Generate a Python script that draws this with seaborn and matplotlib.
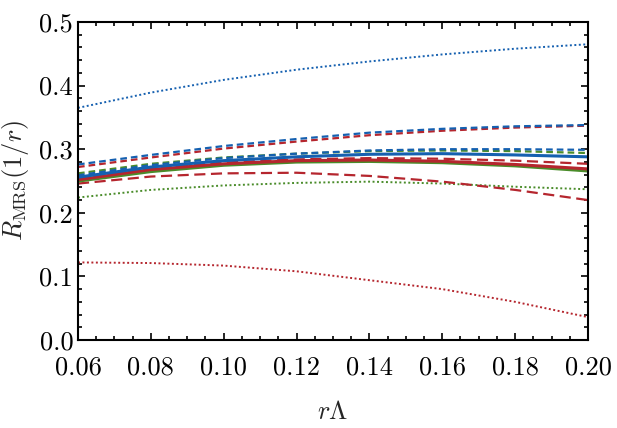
import matplotlib
matplotlib.use("Agg")
import matplotlib.pyplot as plt
from matplotlib.ticker import MultipleLocator
import seaborn as sns
import pandas as pd

r_lambda = [0.06, 0.08, 0.10, 0.12, 0.14, 0.16, 0.18, 0.20]

blue_dotted_top = [0.365, 0.389, 0.409, 0.425, 0.438, 0.449, 0.458, 0.465]
blue_dashed_top = [0.276, 0.291, 0.305, 0.316, 0.326, 0.332, 0.336, 0.338]
red_dashed_top = [0.272, 0.287, 0.301, 0.312, 0.322, 0.329, 0.334, 0.337]
green_dashed = [0.262, 0.277, 0.287, 0.293, 0.297, 0.298, 0.297, 0.294]
blue_dashed_mid = [0.259, 0.275, 0.286, 0.293, 0.298, 0.300, 0.300, 0.299]
blue_solid = [0.256, 0.272, 0.282, 0.288, 0.292, 0.293, 0.291, 0.288]
red_dashed_mid = [0.254, 0.270, 0.279, 0.284, 0.286, 0.285, 0.282, 0.277]
red_solid = [0.252, 0.268, 0.277, 0.282, 0.283, 0.281, 0.276, 0.269]
green_solid = [0.250, 0.265, 0.275, 0.280, 0.281, 0.279, 0.274, 0.266]
red_dashed_low = [0.246, 0.257, 0.262, 0.263, 0.258, 0.249, 0.236, 0.220]
green_dotted = [0.224, 0.236, 0.243, 0.247, 0.249, 0.246, 0.241, 0.237]
red_dotted = [0.122, 0.121, 0.117, 0.108, 0.094, 0.080, 0.060, 0.036]

BLUE = "#1560b0"
RED = "#b5262e"
GREEN = "#4a8c2a"

DOT = (0, (1, 1.3))
SHORT = (0, (3, 1.8))
LONG = (0, (5, 2.5))

curves = [
    (blue_dotted_top, BLUE, DOT, 1.4),
    (red_dotted, RED, DOT, 1.4),
    (green_dotted, GREEN, DOT, 1.4),
    (red_dashed_low, RED, LONG, 1.6),
    (red_dashed_top, RED, SHORT, 1.6),
    (blue_dashed_top, BLUE, SHORT, 1.6),
    (green_solid, GREEN, "-", 2.4),
    (red_solid, RED, "-", 2.2),
    (red_dashed_mid, RED, LONG, 1.6),
    (blue_solid, BLUE, "-", 2.2),
    (green_dashed, GREEN, SHORT, 1.6),
    (blue_dashed_mid, BLUE, SHORT, 1.6),
]

sns.set_style("ticks")
plt.rcParams["font.family"] = "serif"
plt.rcParams["font.serif"] = ["cmr10", "DejaVu Serif"]
plt.rcParams["mathtext.fontset"] = "cm"
plt.rcParams["axes.formatter.use_mathtext"] = True

fig = plt.figure(figsize=(6.17, 4.28), dpi=100)
ax = fig.add_axes([0.1264, 0.2056, 0.8266, 0.743])

for vals, col, ls, lw in curves:
    df = pd.DataFrame({"x": r_lambda, "y": vals})
    sns.lineplot(data=df, x="x", y="y", ax=ax, color=col, linestyle=ls,
                 linewidth=lw, legend=False)

ax.set_xlim(0.06, 0.20)
ax.set_ylim(0.0, 0.5)
ax.xaxis.set_major_locator(MultipleLocator(0.02))
ax.xaxis.set_minor_locator(MultipleLocator(0.005))
ax.yaxis.set_major_locator(MultipleLocator(0.1))
ax.yaxis.set_minor_locator(MultipleLocator(0.02))
ax.xaxis.set_major_formatter(plt.FuncFormatter(lambda v, p: "%.2f" % v))
ax.yaxis.set_major_formatter(plt.FuncFormatter(lambda v, p: "%.1f" % v))
ax.tick_params(which="both", direction="in", top=True, right=True, width=1.2,
               colors="black", labelsize=19)
ax.tick_params(which="major", length=5)
ax.tick_params(which="minor", length=3)
ax.tick_params(axis="x", which="major", pad=11)
for s in ax.spines.values():
    s.set_linewidth(1.5)
    s.set_color("black")

ax.set_xlabel(r"$r\Lambda$", fontsize=19, labelpad=15)
ax.set_ylabel(r"$R_{\rm MRS}(1/r)$", fontsize=19, labelpad=6)

fig.savefig("out.png", dpi=100)
